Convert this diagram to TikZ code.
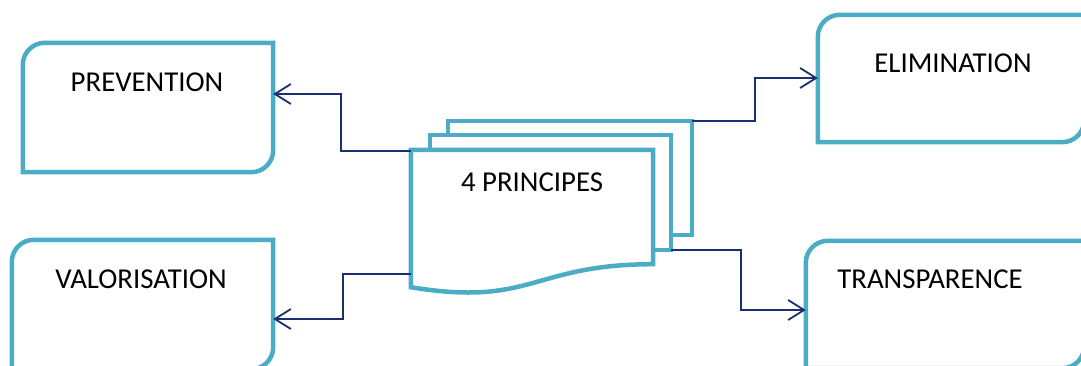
\documentclass[tikz,border=0pt]{standalone}
\usepackage{fontspec}
\setmainfont{Carlito}
\usetikzlibrary{arrows.meta}
\definecolor{boxcol}{HTML}{4BACC6}
\definecolor{linecol}{HTML}{1B306F}
\tikzset{
  frame/.style={draw=none, inner sep=0pt, rectangle},
  boxline/.style={draw=boxcol, line width=4.5pt, line join=miter},
  docline/.style={draw=boxcol, line width=4.5pt, fill=white, line join=miter},
  conn/.style={draw=linecol, line width=1.8pt, -{Straight Barb[length=16pt,width=20pt]}},
  lbl/.style={inner sep=0pt, font=\fontsize{28.8}{34}\selectfont, text=black}
}
\begin{document}
\begin{tikzpicture}[x=1pt,y=1pt]
\useasboundingbox (0,0) rectangle (1081,365);
\clip (0,0) rectangle (1081,365);
% frames of the four boxes
\node[frame, minimum width=250pt, minimum height=129pt] (P) at (148,257.5) {};
\node[frame, minimum width=266pt, minimum height=127pt] (E) at (951,286.5) {};
\node[frame, minimum width=261pt, minimum height=129pt] (V) at (142.5,60.5) {};
\node[frame, minimum width=278pt, minimum height=127pt] (T) at (945,60.5) {};
% outlines (rounded top-left and bottom-right)
\foreach \b in {P,E,V,T}{
  \draw[boxline] (\b.north east) -- ([xshift=22pt]\b.north west)
    arc[start angle=90,end angle=180,radius=22pt] -- (\b.south west)
    -- ([xshift=-22pt]\b.south east)
    arc[start angle=270,end angle=360,radius=22pt] -- cycle;
}
\node[lbl] (Pt) at (147,283) {PREVENTION};
\node[lbl] (Et) at (953,302) {ELIMINATION};
\node[lbl] (Vt) at (141,86) {VALORISATION};
\node[lbl] (Tt) at (930,86) {TRANSPARENCE};
% document stack
\node[frame, minimum width=244pt, minimum height=114pt] (B) at (570,187) {};
\node[frame, minimum width=241pt, minimum height=115pt] (M) at (550.5,172.5) {};
\node[frame, minimum width=242pt, minimum height=114pt] (F) at (532,158) {};
\draw[docline] (B.north west) rectangle (B.south east);
\draw[docline] (M.north west) rectangle (M.south east);
\draw[docline] (F.north west) -- (F.north east) -- (F.south east)
  .. controls ([xshift=-121pt]F.south east) and ([xshift=-121pt,yshift=-43pt]F.south east)
  .. ([yshift=-23pt]F.south west) -- cycle;
\node[lbl] (Ft) at (532,183) {4 PRINCIPES};
% connector ends
\coordinate (fw1) at ([yshift=-1pt]F.north west);
\coordinate (fw2) at ([yshift=-10pt]F.south west);
\coordinate (Pin) at ([yshift=13.5pt]P.east);
\coordinate (Vin) at ([yshift=-14.5pt]V.east);
\coordinate (Ein) at ([yshift=0.5pt]E.west);
\coordinate (Tin) at ([yshift=-5.5pt]T.west);
\draw[conn] (fw1) -- ++(-70pt,0) |- (Pin);
\draw[conn] (fw2) -- ++(-68pt,0) |- (Vin);
\draw[conn] (B.north east) -- ++(63pt,0) |- (Ein);
\draw[conn] (M.south east) -- ++(70pt,0) |- (Tin);
\end{tikzpicture}
\end{document}
